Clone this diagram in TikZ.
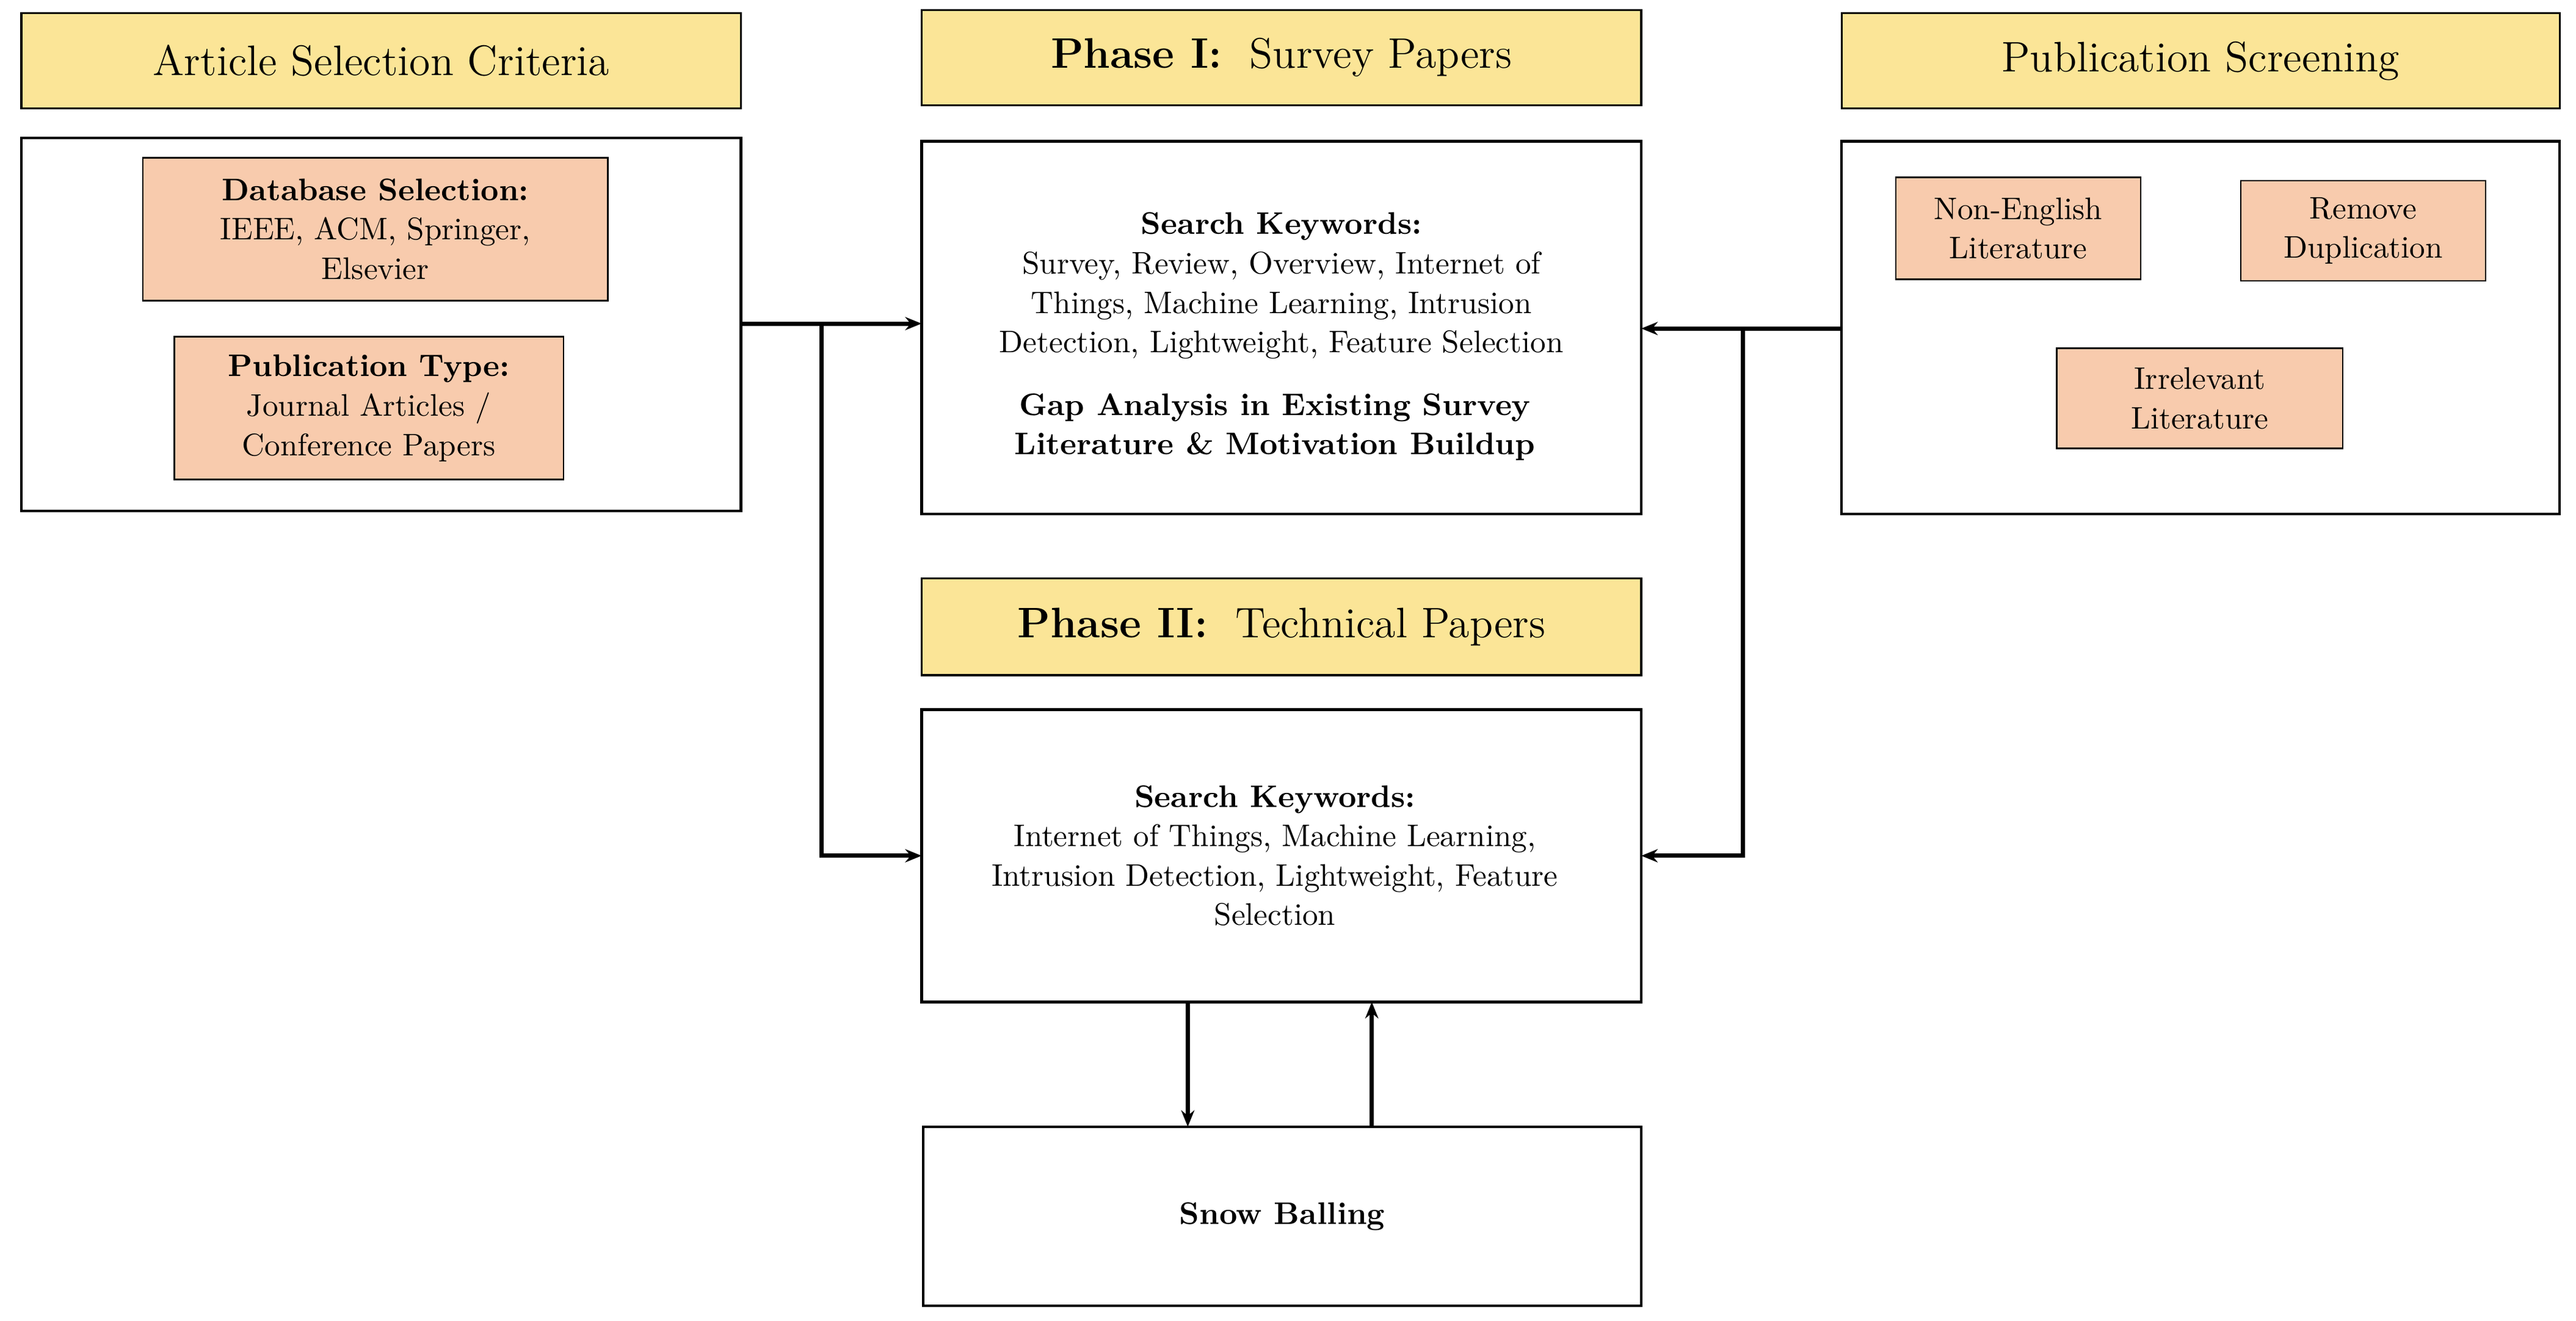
\documentclass[tikz,border=0pt]{standalone}
\usetikzlibrary{arrows.meta}
\begin{document}
\begin{tikzpicture}[x=0.5pt,y=-0.5pt,
 box/.style={draw,line width=0.8pt,fill=white},
 hdr/.style={draw,line width=0.6pt,fill=yellow!45!orange!35!white,font=\fontsize{13}{15}\selectfont},
 org/.style={draw,line width=0.5pt,fill=orange!35!white,align=center,font=\fontsize{9.5}{12}\selectfont},
 txt/.style={align=center,font=\fontsize{9.5}{12}\selectfont},
 arr/.style={line width=1.3pt,-{Stealth[length=5pt,width=4pt]}}]
\useasboundingbox (0,0) rectangle (1568,804);
\definecolor{hy}{HTML}{FBE597}\definecolor{ho}{HTML}{F8CBAD}
\tikzset{hdr/.append style={fill=hy},org/.append style={fill=ho}}
% headers
\draw[hdr] (13,8) rectangle (451,66) node[midway] (h1) {Article Selection Criteria};
\draw[hdr] (561,6) rectangle (999,64) node[midway] (h2) {\textbf{Phase I:}\ \ Survey Papers};
\draw[hdr] (1121,8) rectangle (1558,66) node[midway] (h3) {Publication Screening};
\draw[hdr] (561,352) rectangle (999,411) node[midway] (h4) {\textbf{Phase II:}\ \ Technical Papers};
% boxes
\draw[box] (13,84) rectangle (451,311); \coordinate (L) at (451,197);
\draw[box] (561,86) rectangle (999,313); \coordinate (M1l) at (561,197); \coordinate (M1r) at (999,200);
\draw[box] (1121,86) rectangle (1558,313); \coordinate (R) at (1121,200);
\draw[box] (561,432) rectangle (999,610); \coordinate (M2l) at (561,521); \coordinate (M2r) at (999,521);
\draw[box] (562,686) rectangle (999,795) node[midway,txt] (sb) {\textbf{Snow Balling}};
% orange
\draw[org] (87,96) rectangle (370,183) node[midway,org,draw=none] (db) {\textbf{Database Selection:}\\IEEE, ACM, Springer,\\Elsevier};
\draw[org] (106,205) rectangle (343,292) node[midway,org,draw=none] (pt) {\textbf{Publication Type:}\\Journal Articles /\\Conference Papers};
\draw[org] (1154,108) rectangle (1303,170) node[midway,org,draw=none] (ne) {Non-English\\Literature};
\draw[org] (1364,110) rectangle (1513,171) node[midway,org,draw=none] (rd) {Remove\\Duplication};
\draw[org] (1252,212) rectangle (1426,273) node[midway,org,draw=none] (ir) {Irrelevant\\Literature};
% texts
\node[txt] (t1) at (780,174) {\textbf{Search Keywords:}\\Survey, Review, Overview, Internet of\\Things, Machine Learning, Intrusion\\Detection, Lightweight, Feature Selection};
\node[txt] (t2) at (776,260) {\textbf{Gap Analysis in Existing Survey}\\\textbf{Literature \& Motivation Buildup}};
\node[txt] (t3) at (776,521) {\textbf{Search Keywords:}\\Internet of Things, Machine Learning,\\Intrusion Detection, Lightweight, Feature\\Selection};
% arrows
\coordinate (bl) at (500,197); \coordinate (br) at (1061,200);
\draw[arr] (L) -- (M1l);
\draw[arr] (bl) |- (M2l);
\draw[arr] (R) -- (M1r);
\draw[arr] (br) |- (M2r);
\coordinate (d1) at (723,610); \coordinate (d2) at (723,686);
\coordinate (u1) at (835,686); \coordinate (u2) at (835,610);
\draw[arr] (d1) -- (d2);
\draw[arr] (u1) -- (u2);
\end{tikzpicture}
\end{document}
